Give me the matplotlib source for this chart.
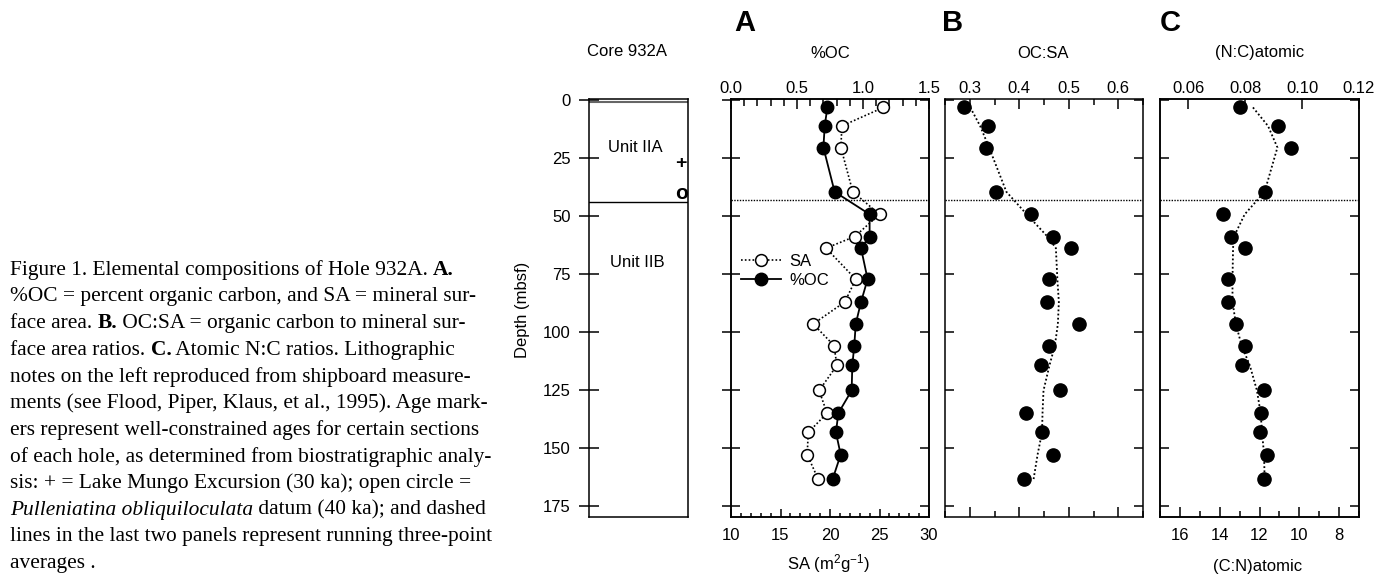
import matplotlib
matplotlib.use('Agg')
import matplotlib.pyplot as plt
from matplotlib.ticker import MultipleLocator, FormatStrFormatter

plt.rcParams['font.family'] = ['Liberation Sans', 'DejaVu Sans']
plt.rcParams['mathtext.fontset'] = 'custom'
plt.rcParams['mathtext.rm'] = 'Liberation Sans'
plt.rcParams['mathtext.it'] = 'Liberation Sans:italic'

# depth of samples (mbsf)
depth = [3.2, 11.2, 20.5, 39.6, 49.3, 58.9, 63.9, 77.3, 87.1, 96.6, 105.9, 114.5, 125.3, 135.1, 143.4, 153.0, 163.5]
# panel A
oc = [0.73, 0.71, 0.70, 0.785, 1.05, 1.05, 0.985, 1.035, 0.985, 0.945, 0.934, 0.919, 0.914, 0.813, 0.795, 0.831, 0.770]
sa = [25.4, 21.2, 21.1, 22.3, 25.0, 22.5, 19.6, 22.6, 21.5, 18.3, 20.4, 20.7, 18.9, 19.7, 17.8, 17.7, 18.8]
# panel B
ocsa = [0.289, 0.336, 0.333, 0.354, 0.423, 0.469, 0.504, 0.460, 0.457, 0.520, 0.460, 0.443, 0.483, 0.413, 0.446, 0.468, 0.409]
ocsa_avg = [0.301, 0.321, 0.339, 0.374, 0.415, 0.457, 0.474, 0.477, 0.480, 0.478, 0.472, 0.461, 0.449, 0.447, 0.446, 0.437, 0.429]
# panel C
nc = [0.0781, 0.0915, 0.0962, 0.0871, 0.0722, 0.0748, 0.0798, 0.0740, 0.0740, 0.0766, 0.0798, 0.0789, 0.0866, 0.0857, 0.0852, 0.0877, 0.0866]
nc_avg = [0.0827, 0.0880, 0.0913, 0.0868, 0.0798, 0.0760, 0.0757, 0.0755, 0.0755, 0.0767, 0.0787, 0.0816, 0.0841, 0.0854, 0.0859, 0.0866, 0.0868]

depth_ticks = [0, 25, 50, 75, 100, 125, 150, 175]
unit_boundary = 44
fs = 12
lw = 1.1
dots = (0, (1, 1.3))

fig = plt.figure(figsize=(13.74, 5.75), dpi=100)
W, H = 1374., 575.
def box(l, r, t=99.3, b=517.3):
    return [l / W, 1 - b / H, (r - l) / W, (b - t) / H]

# caption text
cap = fig.add_axes([0, 0, 1, 1])
cap.axis('off')
caption = [
    [("Figure 1. Elemental compositions of Hole 932A. ", 'normal', 'normal'), ("A.", 'bold', 'normal')],
    [("%OC = percent organic carbon, and SA = mineral sur-", 'normal', 'normal')],
    [("face area. ", 'normal', 'normal'), ("B.", 'bold', 'normal'), (" OC:SA = organic carbon to mineral sur-", 'normal', 'normal')],
    [("face area ratios. ", 'normal', 'normal'), ("C.", 'bold', 'normal'), (" Atomic N:C ratios. Lithographic", 'normal', 'normal')],
    [("notes on the left reproduced from shipboard measure-", 'normal', 'normal')],
    [("ments (see Flood, Piper, Klaus, et al., 1995). Age mark-", 'normal', 'normal')],
    [("ers represent well-constrained ages for certain sections", 'normal', 'normal')],
    [("of each hole, as determined from biostratigraphic analy-", 'normal', 'normal')],
    [("sis: + = Lake Mungo Excursion (30 ka); open circle =", 'normal', 'normal')],
    [("Pulleniatina obliquiloculata", 'normal', 'italic'), (" datum (40 ka); and dashed", 'normal', 'normal')],
    [("lines in the last two panels represent running three-point", 'normal', 'normal')],
    [("averages .", 'normal', 'normal')],
]
for i, line in enumerate(caption):
    ypix = 270 + i * 26.7
    prev = None
    for seg, wt, st in line:
        kw = dict(fontsize=15.4, family=['Liberation Serif', 'DejaVu Serif'], fontweight=wt, fontstyle=st, va='center', ha='left')
        if prev is None:
            prev = cap.text(10 / W, 1 - ypix / H, seg, transform=cap.transAxes, **kw)
        else:
            prev = cap.annotate(seg, xy=(1, 0.5), xycoords=prev, **kw)

# core column
ax0 = fig.add_axes(box(589, 688))
ax0.set_xlim(0, 1)
ax0.set_ylim(180, -0.3)
ax0.set_xticks([])
ax0.set_yticks(depth_ticks)
ax0.tick_params(axis='y', direction='inout', length=14, width=lw, labelsize=fs, pad=6, right=False)
for s in ax0.spines.values():
    s.set_linewidth(lw)
ax0.axhline(unit_boundary, color='black', lw=1.0)
ax0.axhline(1.0, color='0.4', lw=1.5)
ax0.text(0.465, 20.7, 'Unit IIA', ha='center', va='center', fontsize=fs)
ax0.text(0.485, 70.3, 'Unit IIB', ha='center', va='center', fontsize=fs)
ax0.text(0.93, 27.2, '+', ha='center', va='center', fontsize=14, fontweight='bold')
ax0.text(0.93, 40.5, 'o', ha='center', va='center', fontsize=15, fontweight='bold')
fig.text(627 / W, 1 - 52 / H, 'Core 932A', ha='center', va='center', fontsize=fs)
fig.text(523 / W, 1 - 310 / H, 'Depth (mbsf)', ha='center', va='center', rotation=90, fontsize=fs)

# panel A
axa = fig.add_axes(box(731, 929))
axa.set_xlim(10, 30)
axa.set_ylim(180, -0.3)
axt = axa.twiny()
axt.set_xlim(0, 1.5)
l_sa, = axa.plot(sa, depth, color='black', lw=1.2, ls=dots, marker='o', ms=8.5, mfc='white', mec='black', mew=1.1, zorder=3)
l_oc, = axt.plot(oc, depth, color='black', lw=1.3, marker='o', ms=9, mfc='black', mec='black', zorder=3)
axa.axhline(43.2, color='black', lw=1.0, ls=(0, (1, 1)))
axa.xaxis.set_major_locator(MultipleLocator(5))
axa.xaxis.set_minor_locator(MultipleLocator(1))
axa.tick_params(axis='x', which='major', direction='in', length=6, width=lw, labelsize=fs, pad=8)
axa.tick_params(axis='x', which='minor', direction='in', length=3, width=lw)
axt.xaxis.set_major_locator(MultipleLocator(0.5))
axt.xaxis.set_minor_locator(MultipleLocator(0.1))
axt.xaxis.set_major_formatter(FormatStrFormatter('%.1f'))
axt.tick_params(axis='x', which='major', direction='in', length=7, width=lw, labelsize=fs, pad=2.5)
axt.tick_params(axis='x', which='minor', direction='in', length=5, width=lw)
axa.set_yticks(depth_ticks)
axa.tick_params(axis='y', direction='inout', length=13, width=lw, left=True, right=False, labelleft=False)
axt.yaxis.set_visible(True)
axt.tick_params(axis='y', direction='in', length=6.5, width=lw, left=False, right=True, labelleft=False, labelright=False)
for a in (axa, axt):
    for s in a.spines.values():
        s.set_linewidth(lw)
axt.legend([l_sa, l_oc], ['SA', '%OC'], loc='upper left', bbox_to_anchor=(0.05, 0.63), frameon=False,
           fontsize=fs, handlelength=2.4, handletextpad=0.5, labelspacing=0.25, borderpad=0, borderaxespad=0)
fig.text(745 / W, 1 - 23 / H, 'A', ha='center', va='center', fontsize=21, fontweight='bold')
fig.text(830 / W, 1 - 53 / H, '%OC', ha='center', va='center', fontsize=fs)
fig.text(828 / W, 1 - 564 / H, r'SA (m$^2$g$^{-1}$)', ha='center', va='center', fontsize=fs)

# panel B
axb = fig.add_axes(box(945, 1143))
axb.set_xlim(0.25, 0.65)
axb.set_ylim(180, -0.3)
axb.plot(ocsa_avg, depth, color='black', lw=1.3, ls=dots)
axb.plot(ocsa, depth, ls='none', marker='o', ms=9.5, mfc='black', mec='black')
axb.axhline(43.2, color='black', lw=1.0, ls=(0, (1, 1)))
axb.xaxis.set_major_locator(MultipleLocator(0.1))
axb.xaxis.set_minor_locator(MultipleLocator(0.05))
axb.xaxis.set_major_formatter(FormatStrFormatter('%.1f'))
axb.tick_params(axis='x', which='major', direction='in', length=7, width=lw, top=True, bottom=True,
                labeltop=True, labelbottom=False, labelsize=fs, pad=2.5)
axb.tick_params(axis='x', which='minor', direction='in', length=4.5, width=lw, top=True, bottom=True)
axb.set_yticks(depth_ticks)
axb.tick_params(axis='y', direction='in', length=6.5, width=lw, left=True, right=True, labelleft=False)
for s in axb.spines.values():
    s.set_linewidth(lw)
fig.text(953 / W, 1 - 23 / H, 'B', ha='center', va='center', fontsize=21, fontweight='bold')
fig.text(1043 / W, 1 - 53 / H, 'OC:SA', ha='center', va='center', fontsize=fs)

# panel C
axc = fig.add_axes(box(1160, 1359))
axc.set_xlim(17, 7)
axc.set_ylim(180, -0.3)
axct = axc.twiny()
axct.set_xlim(0.05, 0.12)
axct.plot(nc_avg, depth, color='black', lw=1.3, ls=dots)
axct.plot(nc, depth, ls='none', marker='o', ms=9.5, mfc='black', mec='black')
axc.axhline(43.2, color='black', lw=1.0, ls=(0, (1, 1)))
axc.xaxis.set_major_locator(MultipleLocator(2))
axc.xaxis.set_minor_locator(MultipleLocator(1))
axc.tick_params(axis='x', which='major', direction='in', length=7, width=lw, labelsize=fs, pad=8)
axc.tick_params(axis='x', which='minor', direction='in', length=4, width=lw)
axct.xaxis.set_major_locator(MultipleLocator(0.02))
axct.xaxis.set_major_formatter(FormatStrFormatter('%.2f'))
axct.tick_params(axis='x', which='major', direction='in', length=7, width=lw, labelsize=fs, pad=2.5)
axc.set_yticks(depth_ticks)
axc.tick_params(axis='y', direction='in', length=6.5, width=lw, left=True, right=True, labelleft=False)
for a in (axc, axct):
    for s in a.spines.values():
        s.set_linewidth(lw)
fig.text(1170 / W, 1 - 23 / H, 'C', ha='center', va='center', fontsize=21, fontweight='bold')
fig.text(1260 / W, 1 - 53 / H, '(N:C)atomic', ha='center', va='center', fontsize=fs)
fig.text(1258 / W, 1 - 566 / H, '(C:N)atomic', ha='center', va='center', fontsize=fs)

fig.savefig('out.png', dpi=100)
